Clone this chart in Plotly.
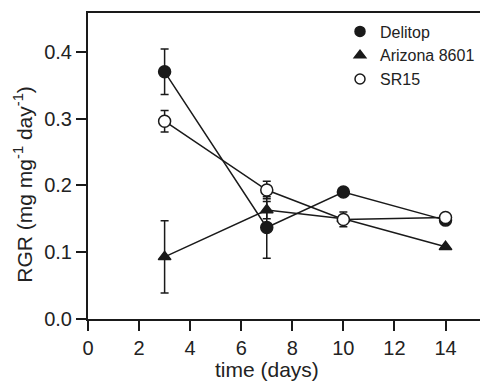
import plotly.graph_objects as go

days = [3, 7, 10, 14]
delitop = [0.370, 0.137, 0.190, 0.148]
delitop_err = [0.034, 0.046, 0.0, 0.0]
arizona = [0.093, 0.163, 0.150, 0.108]
arizona_err = [0.054, 0.013, 0.0, 0.0]
sr15 = [0.296, 0.193, 0.149, 0.152]
sr15_err = [0.016, 0.013, 0.011, 0.0]

names = ["Delitop", "Arizona 8601", "SR15"]
series = [delitop, arizona, sr15]
errors = [delitop_err, arizona_err, sr15_err]
symbols = ["circle", "triangle-up", "circle"]
fills = ["#1a1a1a", "#1a1a1a", "white"]
sizes = [12, 11, 12]

x_ticks = [0, 2, 4, 6, 8, 10, 12, 14]
y_ticks = [0.0, 0.1, 0.2, 0.3, 0.4]

C = "#1a1a1a"
FONT = "Liberation Sans, Arial, sans-serif"

fig = go.Figure()
for name, ys, es, sym, fc, sz in zip(names, series, errors, symbols, fills, sizes):
    fig.add_trace(go.Scatter(
        x=days, y=ys, name=name, mode="lines+markers", showlegend=False,
        line=dict(color=C, width=1.5),
        marker=dict(symbol=sym, size=sz, color=fc, line=dict(color=C, width=1.5)),
        error_y=dict(type="data", array=es, visible=True, color=C,
                     thickness=1.5, width=4),
    ))
# legend-only entries (markers without lines)
for name, sym, fc in zip(names, symbols, fills):
    fig.add_trace(go.Scatter(
        x=[None], y=[None], name=name, mode="markers",
        marker=dict(symbol=sym, size=10, color=fc, line=dict(color=C, width=1.5)),
    ))

fig.update_layout(
    width=480, height=382,
    margin=dict(l=88, r=0, t=13, b=63),
    paper_bgcolor="white", plot_bgcolor="white",
    font=dict(family=FONT, color="#222", size=20),
    showlegend=True,
    legend=dict(x=1.0, y=0.995, xanchor="right", yanchor="top",
                bgcolor="rgba(0,0,0,0)", font=dict(size=16, color="#222"),
                tracegroupgap=0, itemwidth=30, borderwidth=0),
    annotations=[
        dict(text="time (days)", xref="x", yref="paper", x=7, y=-0.165,
             xanchor="center", yanchor="middle", showarrow=False,
             font=dict(size=21, color="#222")),
        dict(text="RGR (mg mg<sup>-1</sup> day<sup>-1</sup>)", xref="paper", yref="paper",
             x=-0.165, y=0.44, xanchor="center", yanchor="middle", textangle=-90,
             showarrow=False, font=dict(size=21, color="#222")),
    ],
)
fig.update_xaxes(
    range=[0, 15.35], tickvals=x_ticks, ticktext=[str(v) for v in x_ticks],
    showgrid=False, zeroline=False, showline=True, linecolor=C, linewidth=2,
    mirror=True, ticks="outside", ticklen=10, tickwidth=1.5, tickcolor=C,
    tickfont=dict(size=20),
)
fig.update_yaxes(
    range=[0, 0.458], tickvals=y_ticks, ticktext=[f"{v:.1f}" for v in y_ticks],
    showgrid=False, zeroline=False, showline=True, linecolor=C, linewidth=2,
    mirror=False, ticks="outside", ticklen=10, tickwidth=1.5, tickcolor=C,
    tickfont=dict(size=20),
)
fig.write_html("out.html")
